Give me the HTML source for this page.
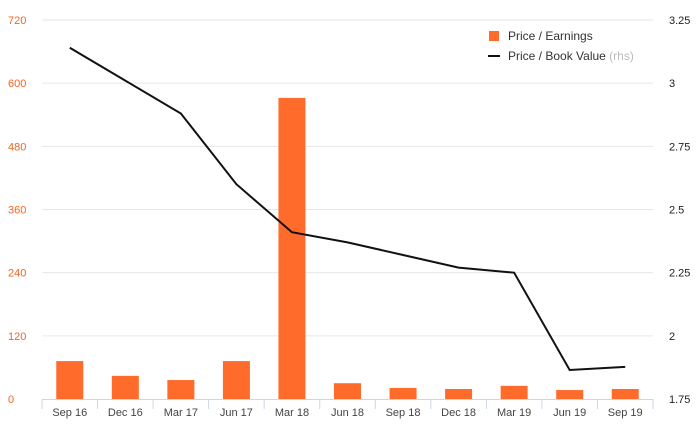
<!DOCTYPE html>
<html><head><meta charset="utf-8"><style>
body{margin:0;background:#fff;}
svg{display:block;font-family:"Liberation Sans",sans-serif;}
</style></head><body>
<svg id="chart" width="700" height="433"></svg>
<script>
const categories=["Sep 16","Dec 16","Mar 17","Jun 17","Mar 18","Jun 18","Sep 18","Dec 18","Mar 19","Jun 19","Sep 19"];
const peValues=[72,44,36,72,572,30,21,19,25,17,19];
const pbValues=[3.14,3.01,2.88,2.60,2.41,2.37,2.32,2.27,2.25,1.865,1.877];
const leftTicks=[0,120,240,360,480,600,720];
const rightTicks=[1.75,2,2.25,2.5,2.75,3,3.25];
const rightTickLabels=["1.75","2","2.25","2.5","2.75","3","3.25"];
const NS="http://www.w3.org/2000/svg";
const svg=document.getElementById('chart');
const L=42,R=653,T=20,B=399;
const bw=(R-L)/categories.length;
const yL=v=>B-(v-0)/(720-0)*(B-T);
const yR=v=>B-(v-1.75)/(3.25-1.75)*(B-T);
const xC=i=>L+bw*(i+0.5);
function mk(tag,attrs,parent){const e=document.createElementNS(NS,tag);for(const k in attrs)e.setAttribute(k,attrs[k]);(parent||svg).appendChild(e);return e;}
leftTicks.forEach((t,i)=>{
  if(i>0){const g=mk('line',{x1:L,x2:R,y1:yL(t),y2:yL(t),stroke:'#e6e6e6','stroke-width':1});
  
  }
  const tx=mk('text',{x:8,y:yL(t)+4,fill:'#f26522','font-size':11});
  tx.textContent=t;
  
  
});
rightTicks.forEach((t,i)=>{
  const tx=mk('text',{x:669,y:yR(t)+4,fill:'#222','font-size':11});
  tx.textContent=rightTickLabels[i];
  
  
});
const ax=mk('line',{x1:L,x2:R,y1:B+0.5,y2:B+0.5,stroke:'#ccd6eb','stroke-width':1});


categories.forEach((c,i)=>{
  const tk=mk('line',{x1:L+bw*i,x2:L+bw*i,y1:B,y2:B+10,stroke:'#ccd6eb'});
  
  
  const tx=mk('text',{x:xC(i),y:416,fill:'#444','font-size':11,'text-anchor':'middle'});
  tx.textContent=c;
  
  
});
const tk2=mk('line',{x1:R,x2:R,y1:B,y2:B+10,stroke:'#ccd6eb'});


peValues.forEach((v,i)=>{
  const r=mk('rect',{x:xC(i)-13.5,y:yL(v),width:27,height:B-yL(v),fill:'#ff6b2b'});
  
  
});
const pts=pbValues.map((v,i)=>xC(i)+','+yR(v)).join(' ');
const pl=mk('polyline',{points:pts,fill:'none',stroke:'#111','stroke-width':2});


const lg=mk('g',{});


const r1=mk('rect',{x:489,y:31,width:10,height:10,fill:'#ff6b2b'},lg);


const t1=mk('text',{x:508,y:40,'font-size':12,fill:'#333'},lg);
t1.textContent='Price / Earnings';


const l2=mk('line',{x1:488,x2:500,y1:56,y2:56,stroke:'#111','stroke-width':2},lg);


const t2=mk('text',{x:508,y:60,'font-size':12,fill:'#333'},lg);
t2.innerHTML='Price / Book Value <tspan fill="#bbb">(rhs)</tspan>';


</script>
</body></html>
